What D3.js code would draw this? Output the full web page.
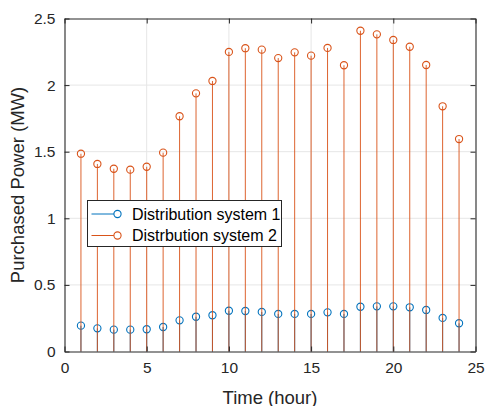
<!DOCTYPE html>
<html>
<head>
<meta charset="utf-8">
<script src="https://cdn.jsdelivr.net/npm/d3@7"></script>
<style>
  body { margin: 0; background: #fff; }
  svg { display: block; font-family: "Liberation Sans", Arial, sans-serif; }
</style>
</head>
<body>
<div id="chart"></div>
<script>
// datos
const hours = [1, 2, 3, 4, 5, 6, 7, 8, 9, 10, 11, 12, 13, 14, 15, 16, 17, 18, 19, 20, 21, 22, 23, 24];
const system1 = [0.194, 0.174, 0.164, 0.164, 0.167, 0.184, 0.234, 0.261, 0.272, 0.306, 0.304, 0.297,
                 0.282, 0.282, 0.282, 0.294, 0.282, 0.336, 0.339, 0.339, 0.332, 0.312, 0.252, 0.212];
const system2 = [1.485, 1.408, 1.372, 1.365, 1.387, 1.493, 1.766, 1.938, 2.031, 2.249, 2.277, 2.266,
                 2.203, 2.246, 2.221, 2.279, 2.149, 2.408, 2.381, 2.339, 2.288, 2.151, 1.841, 1.595];
const seriesNames = ["Distribution system 1", "Distrbution system 2"];
const xTicks = [0, 5, 10, 15, 20, 25];
const yTicks = [0, 0.5, 1, 1.5, 2, 2.5];

const colors = ["#0072BD", "#D95319"];
const W = 487, H = 406;
const margin = { left: 64.5, right: 11.5, top: 18.5, bottom: 54.5 };

const svg = d3.select("#chart").append("svg")
  .attr("width", W)
  .attr("height", H);

const x = d3.scaleLinear().domain([0, 25]).range([margin.left, W - margin.right]);
const y = d3.scaleLinear().domain([0, 2.5]).range([H - margin.bottom, margin.top]);

// rejilla
const grid = svg.append("g").attr("stroke", "#e6e6e6").attr("stroke-width", 1);
grid.selectAll(".gx").data(xTicks.slice(1, -1)).enter().append("line")
  .attr("x1", d => x(d)).attr("x2", d => x(d))
  .attr("y1", y(0)).attr("y2", y(2.5));
grid.selectAll(".gy").data(yTicks.slice(1, -1)).enter().append("line")
  .attr("x1", x(0)).attr("x2", x(25))
  .attr("y1", d => y(d)).attr("y2", d => y(d));

// tallos y marcadores
const series = [system1, system2];
series.forEach((vals, k) => {
  const g = svg.append("g");
  g.selectAll("line").data(vals).enter().append("line")
    .attr("x1", (d, i) => x(hours[i])).attr("x2", (d, i) => x(hours[i]))
    .attr("y1", y(0)).attr("y2", d => y(d))
    .attr("stroke", colors[k])
    .attr("stroke-width", 1)
    .attr("stroke-opacity", k === 1 ? 0.9 : 1);
  g.selectAll("circle").data(vals).enter().append("circle")
    .attr("cx", (d, i) => x(hours[i]))
    .attr("cy", d => y(d))
    .attr("r", 3.6)
    .attr("fill", "none")
    .attr("stroke", colors[k])
    .attr("stroke-width", 1.1);
});

// ejes (caja estilo MATLAB)
const axisColor = "#262626";
const tickLen = 5;
const fmt = d => String(d);

const xAxis = svg.append("g").attr("transform", `translate(0,${y(0)})`)
  .call(d3.axisBottom(x).tickValues(xTicks).tickFormat(fmt).tickSizeInner(-tickLen).tickSizeOuter(0).tickPadding(10));
const xTop = svg.append("g").attr("transform", `translate(0,${y(2.5)})`)
  .call(d3.axisTop(x).tickValues(xTicks).tickSizeInner(-tickLen).tickSizeOuter(0).tickFormat(""));
const yAxis = svg.append("g").attr("transform", `translate(${x(0)},0)`)
  .call(d3.axisLeft(y).tickValues(yTicks).tickFormat(fmt).tickSizeInner(-tickLen).tickSizeOuter(0).tickPadding(9));
const yRight = svg.append("g").attr("transform", `translate(${x(25)},0)`)
  .call(d3.axisRight(y).tickValues(yTicks).tickSizeInner(-tickLen).tickSizeOuter(0).tickFormat(""));

[xAxis, xTop, yAxis, yRight].forEach(a => {
  a.select(".domain").attr("stroke", axisColor).attr("stroke-width", 1.1);
  a.selectAll(".tick line").attr("stroke", axisColor);
  a.selectAll(".tick text").attr("fill", axisColor).style("font-size", "15.5px")
    .style("font-family", "'Liberation Sans', Arial, sans-serif");
});

// títulos de ejes
svg.append("text")
  .attr("x", (x(0) + x(25)) / 2).attr("y", 404)
  .attr("text-anchor", "middle")
  .attr("fill", axisColor)
  .style("font-size", "18.5px")
  .text("Time (hour)");

svg.append("text")
  .attr("transform", `translate(24,${(y(0) + y(2.5)) / 2}) rotate(-90)`)
  .attr("text-anchor", "middle")
  .attr("fill", axisColor)
  .style("font-size", "18.5px")
  .text("Purchased Power (MW)");

// leyenda
const leg = svg.append("g").attr("transform", "translate(87.5,200.5)");
leg.append("rect")
  .attr("width", 194).attr("height", 46)
  .attr("fill", "#fff")
  .attr("stroke", axisColor).attr("stroke-width", 1);
seriesNames.forEach((name, k) => {
  const cy = 13.5 + k * 21.5;
  leg.append("line")
    .attr("x1", 4).attr("x2", 30).attr("y1", cy).attr("y2", cy)
    .attr("stroke", colors[k]).attr("stroke-width", 1);
  leg.append("circle")
    .attr("cx", 30).attr("cy", cy).attr("r", 3.6)
    .attr("fill", "#fff").attr("stroke", colors[k]).attr("stroke-width", 1.1);
  leg.append("text")
    .attr("x", 44.5).attr("y", cy + 5.5)
    .attr("fill", "#000")
    .style("font-size", "16px")
    .text(name);
});
</script>
</body>
</html>
